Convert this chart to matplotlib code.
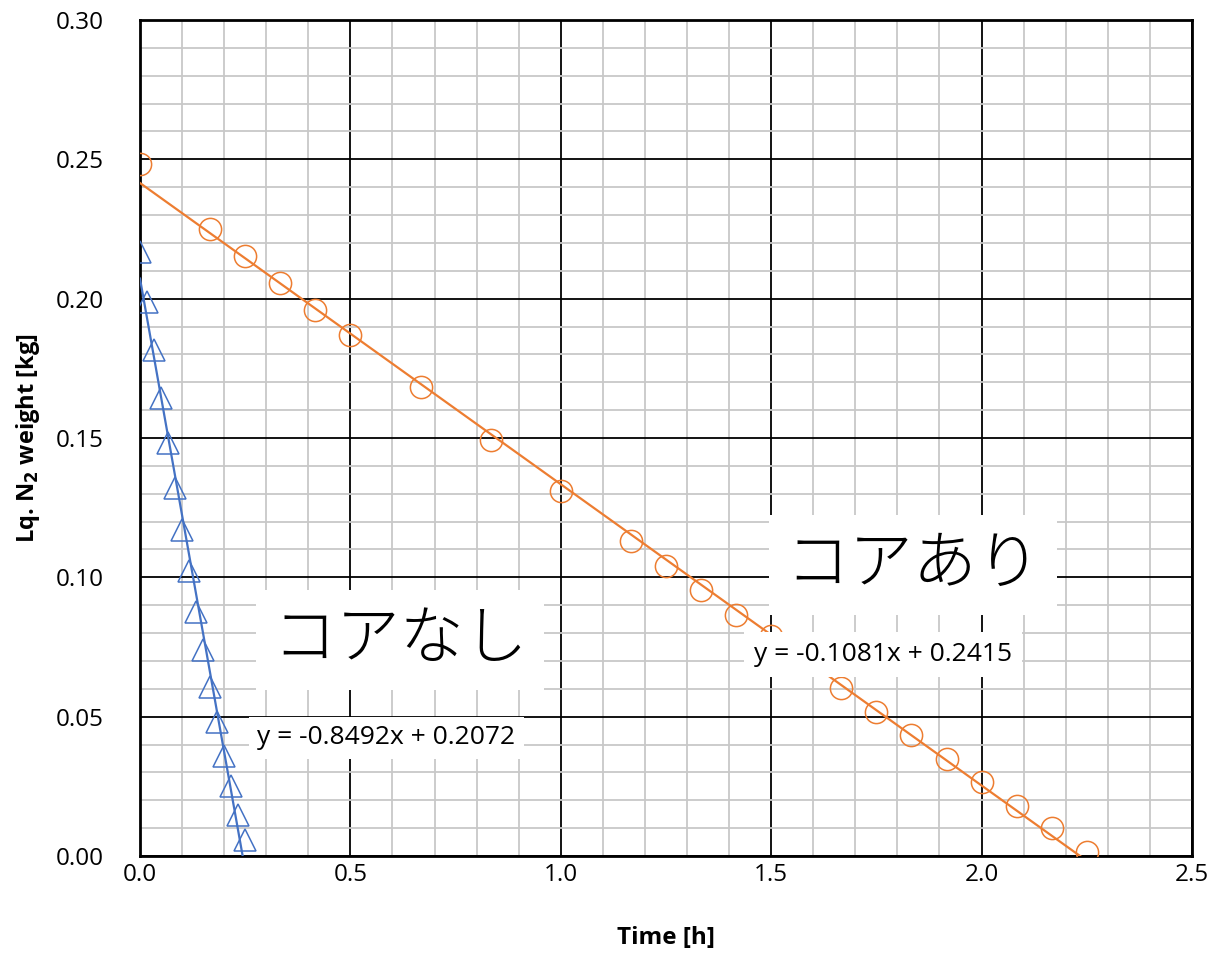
import numpy as np
import matplotlib.pyplot as plt
from matplotlib.ticker import MultipleLocator, FormatStrFormatter

# measured data (time in hours, liquid N2 weight in kg)
t_without = [i / 60 for i in range(16)]
w_without = [0.2167, 0.1988, 0.1816, 0.1644, 0.1482, 0.1321, 0.1170, 0.1023,
             0.0876, 0.0739, 0.0606, 0.0481, 0.0359, 0.0251, 0.0147, 0.0057]

t_with = [0.0, 0.1667, 0.25, 0.3333, 0.4167, 0.5, 0.6667, 0.8333, 1.0, 1.1667,
          1.25, 1.3333, 1.4167, 1.5, 1.5833, 1.6667, 1.75, 1.8333, 1.9167,
          2.0, 2.0833, 2.1667, 2.25]
w_with = [0.2483, 0.2250, 0.2153, 0.2056, 0.1959, 0.1870, 0.1683, 0.1493, 0.1310,
          0.1130, 0.1041, 0.0955, 0.0865, 0.0790, 0.0700, 0.0603, 0.0517, 0.0434,
          0.0348, 0.0265, 0.0180, 0.0100, 0.0014]

# linear trendline coefficients (slope, intercept)
fit_without = (-0.8492, 0.2072)
fit_with = (-0.1081, 0.2415)

BLUE = '#4472C4'
ORANGE = '#ED7D31'
JP = ['Noto Sans CJK JP', 'DejaVu Sans']
plt.rcParams['font.family'] = ['Open Sans', 'DejaVu Sans']

fig = plt.figure(figsize=(12.1, 9.56), dpi=100)
ax = fig.add_axes([0.1157, 0.1046, 0.8694, 0.8745])

ax.plot(t_without, w_without, linestyle='none', marker='^', markersize=16,
        markerfacecolor='none', markeredgecolor=BLUE, markeredgewidth=1.1, zorder=3)
ax.plot(t_with, w_with, linestyle='none', marker='o', markersize=16,
        markerfacecolor='none', markeredgecolor=ORANGE, markeredgewidth=1.1, zorder=3)

for t, fit, c in [(t_without, fit_without, BLUE), (t_with, fit_with, ORANGE)]:
    xs = np.array([min(t), max(t)])
    ax.plot(xs, fit[0] * xs + fit[1], color=c, linewidth=1.6, zorder=4)

ax.set_xlim(0, 2.5)
ax.set_ylim(0, 0.30)
ax.xaxis.set_major_locator(MultipleLocator(0.5))
ax.xaxis.set_minor_locator(MultipleLocator(0.1))
ax.yaxis.set_major_locator(MultipleLocator(0.05))
ax.yaxis.set_minor_locator(MultipleLocator(0.01))
ax.xaxis.set_major_formatter(FormatStrFormatter('%.1f'))
ax.yaxis.set_major_formatter(FormatStrFormatter('%.2f'))
ax.grid(which='minor', color='#c8c8c8', linewidth=1.3)
ax.grid(which='major', color='black', linewidth=1.3)
ax.set_axisbelow(True)
ax.tick_params(which='both', length=0, labelsize=17.5)
ax.tick_params(axis='x', pad=5)
ax.tick_params(axis='y', pad=26)
for s in ax.spines.values():
    s.set_linewidth(2)
    s.set_color('black')

ax.set_xlabel('Time [h]', fontsize=17.5, fontweight='bold', labelpad=28)
ax.set_ylabel('Lq. N$_\\mathbf{2}$ weight [kg]', fontsize=17, fontweight='bold', labelpad=10)

ax.text(0.618, 0.0775, 'コアなし', fontsize=46, family=JP, fontweight='light',
        ha='center', va='center',
        bbox=dict(facecolor='white', edgecolor='none', pad=12), zorder=5)
ax.text(1.837, 0.1044, 'コアあり', fontsize=46, family=JP, fontweight='light',
        ha='center', va='center',
        bbox=dict(facecolor='white', edgecolor='none', pad=12), zorder=5)
ax.text(0.585, 0.0425, 'y = -0.8492x + 0.2072', fontsize=19, ha='center', va='center',
        bbox=dict(facecolor='white', edgecolor='none', pad=6), zorder=5)
ax.text(1.766, 0.0723, 'y = -0.1081x + 0.2415', fontsize=19, ha='center', va='center',
        bbox=dict(facecolor='white', edgecolor='none', pad=7), zorder=5)

fig.savefig('out.png', dpi=100)
